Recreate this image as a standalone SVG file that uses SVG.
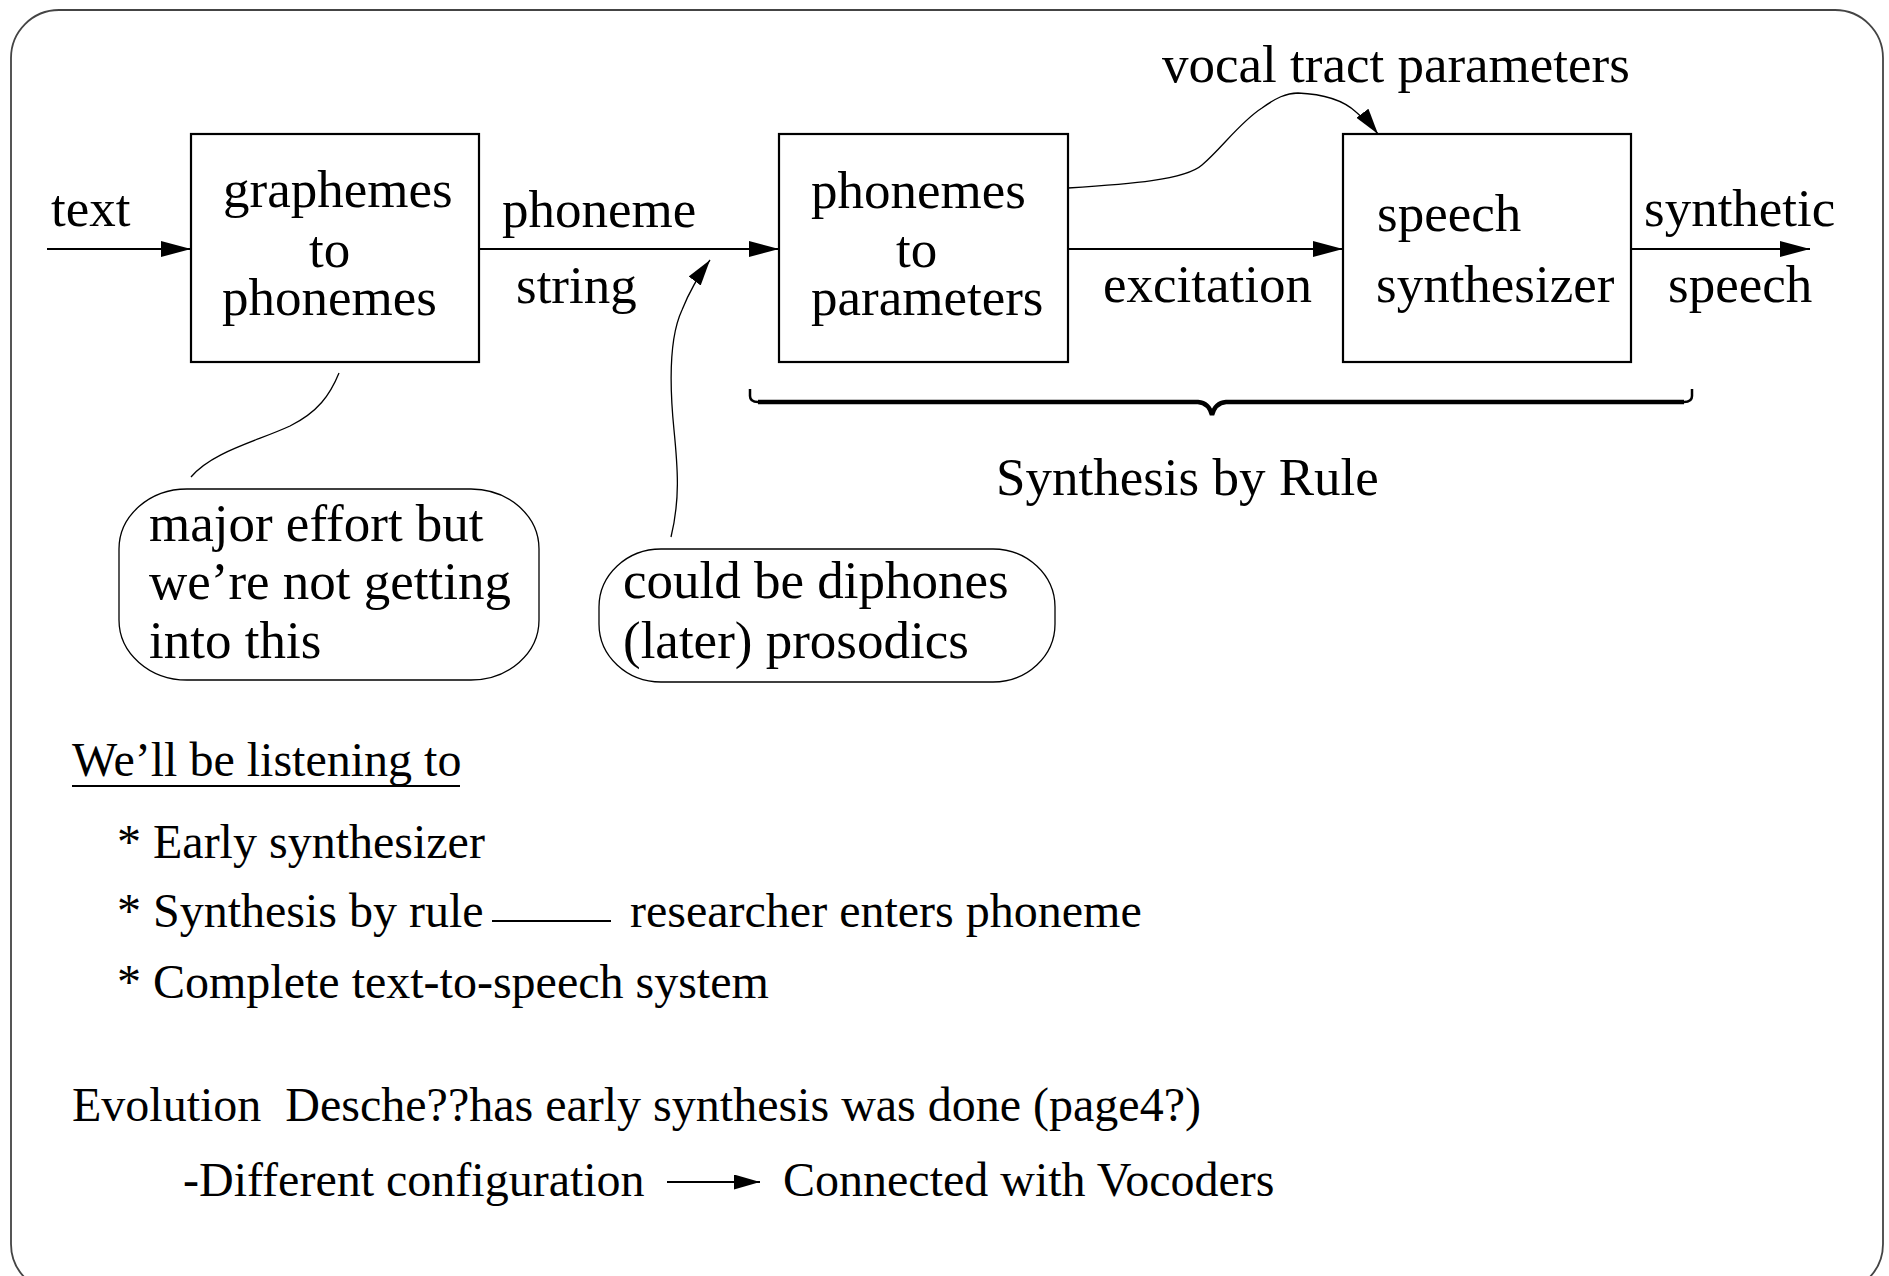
<svg xmlns="http://www.w3.org/2000/svg" width="1889" height="1276" viewBox="0 0 1889 1276">
<style>
text{font-family:"Liberation Serif","Times New Roman",serif;fill:#000}
.t{font-size:53px}
.b{font-size:48px}
.box{fill:#fff;stroke:#000;stroke-width:2.2}
.call{fill:#fff;stroke:#000;stroke-width:1.3}
.ln{fill:none;stroke:#000;stroke-width:2.2}
.thin{fill:none;stroke:#000;stroke-width:1.3}
</style>
<defs>
<marker id="ah" markerUnits="userSpaceOnUse" markerWidth="32" markerHeight="18" refX="30" refY="8" orient="auto">
<path d="M0,0 L30,8 L0,16 Z" fill="#000"/>
</marker>
<marker id="ahs" markerUnits="userSpaceOnUse" markerWidth="28" markerHeight="18" refX="26" refY="7.5" orient="auto">
<path d="M0,0 L26,7.5 L0,15 Z" fill="#000"/>
</marker>
</defs>
<rect x="11" y="10" width="1872" height="1282" rx="48" ry="48" fill="#fff" stroke="#444" stroke-width="1.8"/>

<g id="connectors">
<line class="ln" x1="47" y1="249" x2="191" y2="249" marker-end="url(#ah)"/>
<line class="ln" x1="479" y1="249" x2="779" y2="249" marker-end="url(#ah)"/>
<line class="ln" x1="1068" y1="249" x2="1343" y2="249" marker-end="url(#ah)"/>
<line class="ln" x1="1631" y1="249" x2="1810" y2="249" marker-end="url(#ah)"/>
<path class="thin" d="M1068,188 C1130,184 1185,180 1202,165 C1222,148 1240,122 1262,108 C1276,98 1286,93 1298,93 C1322,94 1342,99 1356,112 C1364,119 1372,126 1378,134" marker-end="url(#ahs)"/>
<path class="thin" d="M671,537 C680,500 678,470 674,430 C670,390 668,340 682,310 C690,290 699,275 710,260" marker-end="url(#ahs)"/>
<path class="thin" d="M339,373 C330,395 318,412 290,426 C255,442 212,452 191,477"/>
<line x1="492" y1="921" x2="611" y2="921" stroke="#000" stroke-width="1.8"/>
<line class="ln" x1="667" y1="1182" x2="760" y2="1182" marker-end="url(#ahs)"/>
</g>

<g id="brace">
<path d="M750,389 L750,396 Q750,402 758,402" fill="none" stroke="#000" stroke-width="2.5"/>
<path d="M1692,389 L1692,396 Q1692,402 1684,402" fill="none" stroke="#000" stroke-width="2.5"/>
<path d="M758,402 L1198,402 Q1209,403 1212,415 Q1215,403 1226,402 L1684,402" fill="none" stroke="#000" stroke-width="4.5"/>
</g>

<g id="n-text"><text class="t" x="51" y="226">text</text></g>

<g id="n-g2p">
<rect class="box" x="191" y="134" width="288" height="228"/>
<text class="t" x="223" y="207">graphemes</text>
<text class="t" x="309" y="267">to</text>
<text class="t" x="222" y="315">phonemes</text>
</g>

<g id="n-phoneme-string">
<text class="t" x="502" y="227">phoneme</text>
<text class="t" x="516" y="303">string</text>
</g>

<g id="n-p2p">
<rect class="box" x="779" y="134" width="289" height="228"/>
<text class="t" x="811" y="208">phonemes</text>
<text class="t" x="896" y="267">to</text>
<text class="t" x="811" y="315">parameters</text>
</g>

<g id="n-vocal"><text class="t" x="1162" y="82">vocal tract parameters</text></g>
<g id="n-excitation"><text class="t" x="1103" y="302">excitation</text></g>

<g id="n-synth">
<rect class="box" x="1343" y="134" width="288" height="228"/>
<text class="t" x="1377" y="231">speech</text>
<text class="t" x="1376" y="302">synthesizer</text>
</g>

<g id="n-output">
<text class="t" x="1644" y="226">synthetic</text>
<text class="t" x="1668" y="302">speech</text>
</g>

<g id="n-sbr"><text class="t" x="996" y="495">Synthesis by Rule</text></g>

<g id="n-callout1">
<rect class="call" x="119" y="489" width="420" height="191" rx="68" ry="60"/>
<text class="t" x="149" y="541">major effort but</text>
<text class="t" x="149" y="599">we’re not getting</text>
<text class="t" x="149" y="658">into this</text>
</g>

<g id="n-callout2">
<rect class="call" x="599" y="549" width="456" height="133" rx="62" ry="58"/>
<text class="t" x="623" y="598">could be diphones</text>
<text class="t" x="623" y="658">(later) prosodics</text>
</g>

<g id="n-notes">
<text class="b" x="72" y="776">We’ll be listening to</text>
<line x1="72" y1="786" x2="460" y2="786" stroke="#000" stroke-width="2.2"/>
<text class="b" x="117" y="858">* Early synthesizer</text>
<text class="b" x="117" y="927">* Synthesis by rule</text>
<text class="b" x="630" y="927">researcher enters phoneme</text>
<text class="b" x="117" y="998">* Complete text-to-speech system</text>
<text class="b" x="72" y="1121" xml:space="preserve">Evolution  Desche??has early synthesis was done (page4?)</text>
<text class="b" x="183" y="1196">-Different configuration</text>
<text class="b" x="783" y="1196">Connected with Vocoders</text>
</g>
</svg>
